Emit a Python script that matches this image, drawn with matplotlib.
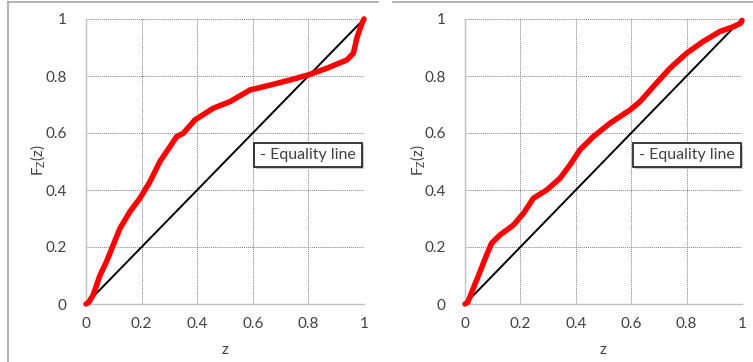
import numpy as np
import matplotlib.pyplot as plt
from matplotlib.lines import Line2D

# empirical CDF of z, first sample
z_a = [0.0, 0.01, 0.026, 0.05, 0.074, 0.098, 0.122, 0.158, 0.194, 0.23, 0.266,
       0.302, 0.326, 0.35, 0.392, 0.458, 0.518, 0.59, 0.662, 0.734, 0.80, 0.866,
       0.938, 0.962, 0.974, 0.986, 0.995, 1.0]
F_a = [0.0, 0.006, 0.032, 0.10, 0.149, 0.207, 0.265, 0.324, 0.371, 0.429, 0.50,
       0.552, 0.587, 0.599, 0.646, 0.687, 0.71, 0.751, 0.768, 0.786, 0.804, 0.827,
       0.856, 0.88, 0.932, 0.967, 0.99, 1.0]

# empirical CDF of z, second sample
z_b = [0.0, 0.01, 0.03, 0.054, 0.078, 0.096, 0.126, 0.175, 0.211, 0.247, 0.295,
       0.343, 0.379, 0.415, 0.463, 0.523, 0.596, 0.632, 0.68, 0.74, 0.80, 0.86,
       0.92, 0.969, 0.995, 1.0]
F_b = [0.0, 0.006, 0.055, 0.113, 0.172, 0.213, 0.242, 0.277, 0.318, 0.371, 0.40,
       0.441, 0.488, 0.541, 0.587, 0.634, 0.681, 0.71, 0.763, 0.827, 0.88, 0.921,
       0.956, 0.973, 0.985, 0.995]

ticks = [0, 0.2, 0.4, 0.6, 0.8, 1]
tick_labels = ["0", "0.2", "0.4", "0.6", "0.8", "1"]
legend_text = "- Equality line"

plt.rcParams['font.family'] = ['Lato', 'DejaVu Sans']

fig = plt.figure(figsize=(7.53, 3.62), dpi=100)
W, H = 753.0, 362.0

# chart area borders
fig.add_artist(Line2D([8 / W, 8 / W], [0, 1 - 2 / H], color='#a6a6a6', lw=1.2))
fig.add_artist(Line2D([8 / W, 378 / W], [1 - 2 / H, 1 - 2 / H], color='#a6a6a6', lw=1.2))
fig.add_artist(Line2D([393 / W, 1], [1 - 2 / H, 1 - 2 / H], color='#a6a6a6', lw=1.2))

panels = [
    (86, 278, z_a, F_a, 254, 38, 225),
    (465, 277, z_b, F_b, 633, 418, 603),
]

for x0, w, zs, Fs, box_x, ylab_x, xlab_x in panels:
    ax = fig.add_axes([x0 / W, 58 / H, w / W, 285 / H])
    ax.set_xlim(0, 1)
    ax.set_ylim(0, 1)
    for s in ['top', 'right']:
        ax.spines[s].set_visible(False)
    for s in ['left', 'bottom']:
        ax.spines[s].set_color('#bfbfbf')
        ax.spines[s].set_linewidth(1.0)
    ax.set_xticks(ticks)
    ax.set_yticks(ticks)
    ax.set_xticklabels(tick_labels)
    ax.set_yticklabels(tick_labels)
    ax.tick_params(length=0, labelsize=11, labelcolor='#404040', pad=9)
    ax.tick_params(axis='y', pad=14)
    ax.grid(True, color='#808080', linestyle=(0, (1, 1)), linewidth=0.7)
    ax.set_axisbelow(True)

    ax.plot([0, 1], [0, 1], color='black', lw=1.4, zorder=3)
    ax.plot(zs, Fs, color='#ff0000', lw=4.0, solid_capstyle='round',
            solid_joinstyle='round', zorder=4, clip_on=False)

    # text box with drop shadow
    bx0, by0, bw, bh = box_x / W, 1 - 167 / H, 108 / W, 24 / H
    shadow = plt.Rectangle((bx0 + 2 / W, by0 - 2 / H), bw, bh, transform=fig.transFigure,
                           facecolor='#c8c8c8', edgecolor='none', zorder=5)
    box = plt.Rectangle((bx0, by0), bw, bh, transform=fig.transFigure,
                        facecolor='white', edgecolor='#1a1a1a', lw=1.2, zorder=6)
    fig.add_artist(shadow)
    fig.add_artist(box)
    fig.text(bx0 + bw / 2, by0 + bh / 2, legend_text, ha='center', va='center',
             fontsize=11.5, color='#404040', zorder=7)

    fig.text(ylab_x / W, 1 - 160 / H, r"F$_{\mathregular{Z}}$(z)", rotation=90,
             ha='center', va='center', fontsize=11, color='#404040')
    fig.text(xlab_x / W, 1 - 350 / H, "z", ha='center', va='center',
             fontsize=11, color='#404040')

fig.savefig('out.png', dpi=100)
